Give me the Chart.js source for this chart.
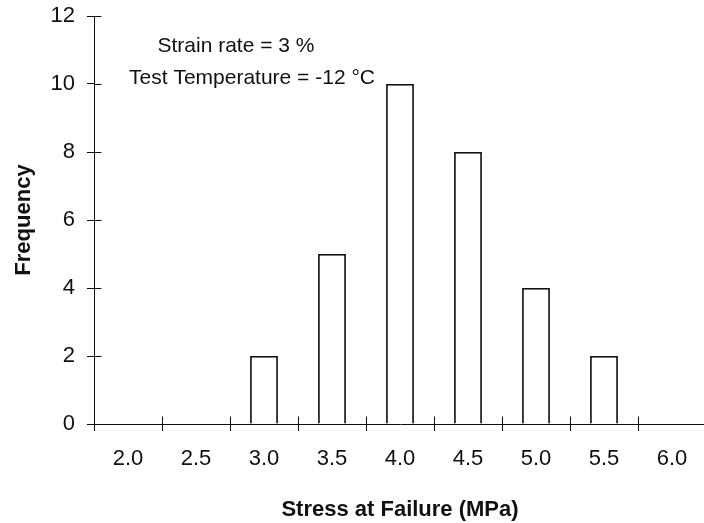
<!DOCTYPE html>
<html>
<head>
<meta charset="utf-8">
<script src="https://cdn.jsdelivr.net/npm/chart.js@4.4.1/dist/chart.umd.min.js"></script>
<style>
  html, body { margin: 0; padding: 0; background: #fff; overflow: hidden; }
  .chart__canvas-wrapper { position: relative; width: 708px; height: 523px; }
</style>
</head>
<body>
<div class="chart__canvas-wrapper">
  <canvas id="chart"></canvas>
</div>
<script>
const categories = ['2.0', '2.5', '3.0', '3.5', '4.0', '4.5', '5.0', '5.5', '6.0'];
const frequency = [0, 0, 2, 5, 10, 8, 4, 2, 0];
const notes = ['Strain rate = 3 %', 'Test Temperature = -12 \u00B0C'];

const fontFamily = "'Liberation Sans', Arial, Helvetica, sans-serif";
const ink = '#111';

Chart.defaults.color = ink;
Chart.defaults.font.family = fontFamily;

// tick marks in the reference cross the axis, Chart.js only draws the outer half
const crossTicks = {
  id: 'crossTicks',
  afterDraw(chart) {
    const { ctx, scales: { x, y } } = chart;
    const axisY = Math.round(y.getPixelForValue(0)) + 0.5;
    const axisX = Math.round(x.left) + 0.5;
    ctx.save();
    ctx.strokeStyle = ink;
    ctx.lineWidth = 1;
    ctx.beginPath();
    for (let i = 0; i <= categories.length; i++) {
      const px = Math.round(x.getPixelForValue(i - 0.5)) + 0.5;
      ctx.moveTo(px, axisY - 8);
      ctx.lineTo(px, axisY);
    }
    y.ticks.forEach(t => {
      const py = Math.round(y.getPixelForValue(t.value)) + 0.5;
      ctx.moveTo(axisX, py);
      ctx.lineTo(axisX + 7, py);
    });
    ctx.stroke();

    ctx.fillStyle = ink;
    ctx.font = '21px ' + fontFamily;
    ctx.textAlign = 'center';
    ctx.textBaseline = 'middle';
    ctx.fillText(notes[0], 236, 46);
    ctx.fillText(notes[1], 252, 78);
    ctx.restore();
  }
};

new Chart(document.getElementById('chart'), {
  type: 'bar',
  data: {
    labels: categories,
    datasets: [{
      data: frequency,
      backgroundColor: '#fff',
      borderColor: ink,
      borderWidth: 1.8,
      borderSkipped: 'bottom',
      barPercentage: 0.41,
      categoryPercentage: 1
    }]
  },
  options: {
    responsive: true,
    maintainAspectRatio: false,
    animation: false,
    layout: { padding: { top: 16, right: 2, left: 0, bottom: 0 } },
    plugins: {
      legend: { display: false },
      tooltip: { enabled: false }
    },
    scales: {
      x: {
        afterFit(scale) { scale.height = 99; },
        grid: {
          offset: true,
          drawOnChartArea: false,
          tickLength: 7,
          tickColor: ink,
          tickWidth: 1
        },
        border: { color: ink, width: 1 },
        ticks: { font: { size: 22 }, color: ink, padding: 15, maxRotation: 0 },
        title: {
          display: true,
          text: 'Stress at Failure (MPa)',
          font: { size: 22, weight: 'bold' },
          color: ink,
          padding: { top: 13, bottom: 0 }
        }
      },
      y: {
        min: 0,
        max: 12,
        afterFit(scale) {
          scale.width = 94;
          scale.paddingTop = 0;
          scale.paddingBottom = 0;
        },
        grid: {
          drawOnChartArea: false,
          tickLength: 7,
          tickColor: ink,
          tickWidth: 1
        },
        border: { color: ink, width: 1 },
        ticks: { stepSize: 2, font: { size: 22 }, color: ink, padding: 12 },
        title: {
          display: true,
          text: 'Frequency',
          font: { size: 22, weight: 'bold' },
          color: ink,
          padding: { top: 11, bottom: 0 }
        }
      }
    }
  },
  plugins: [crossTicks]
});
</script>
</body>
</html>
